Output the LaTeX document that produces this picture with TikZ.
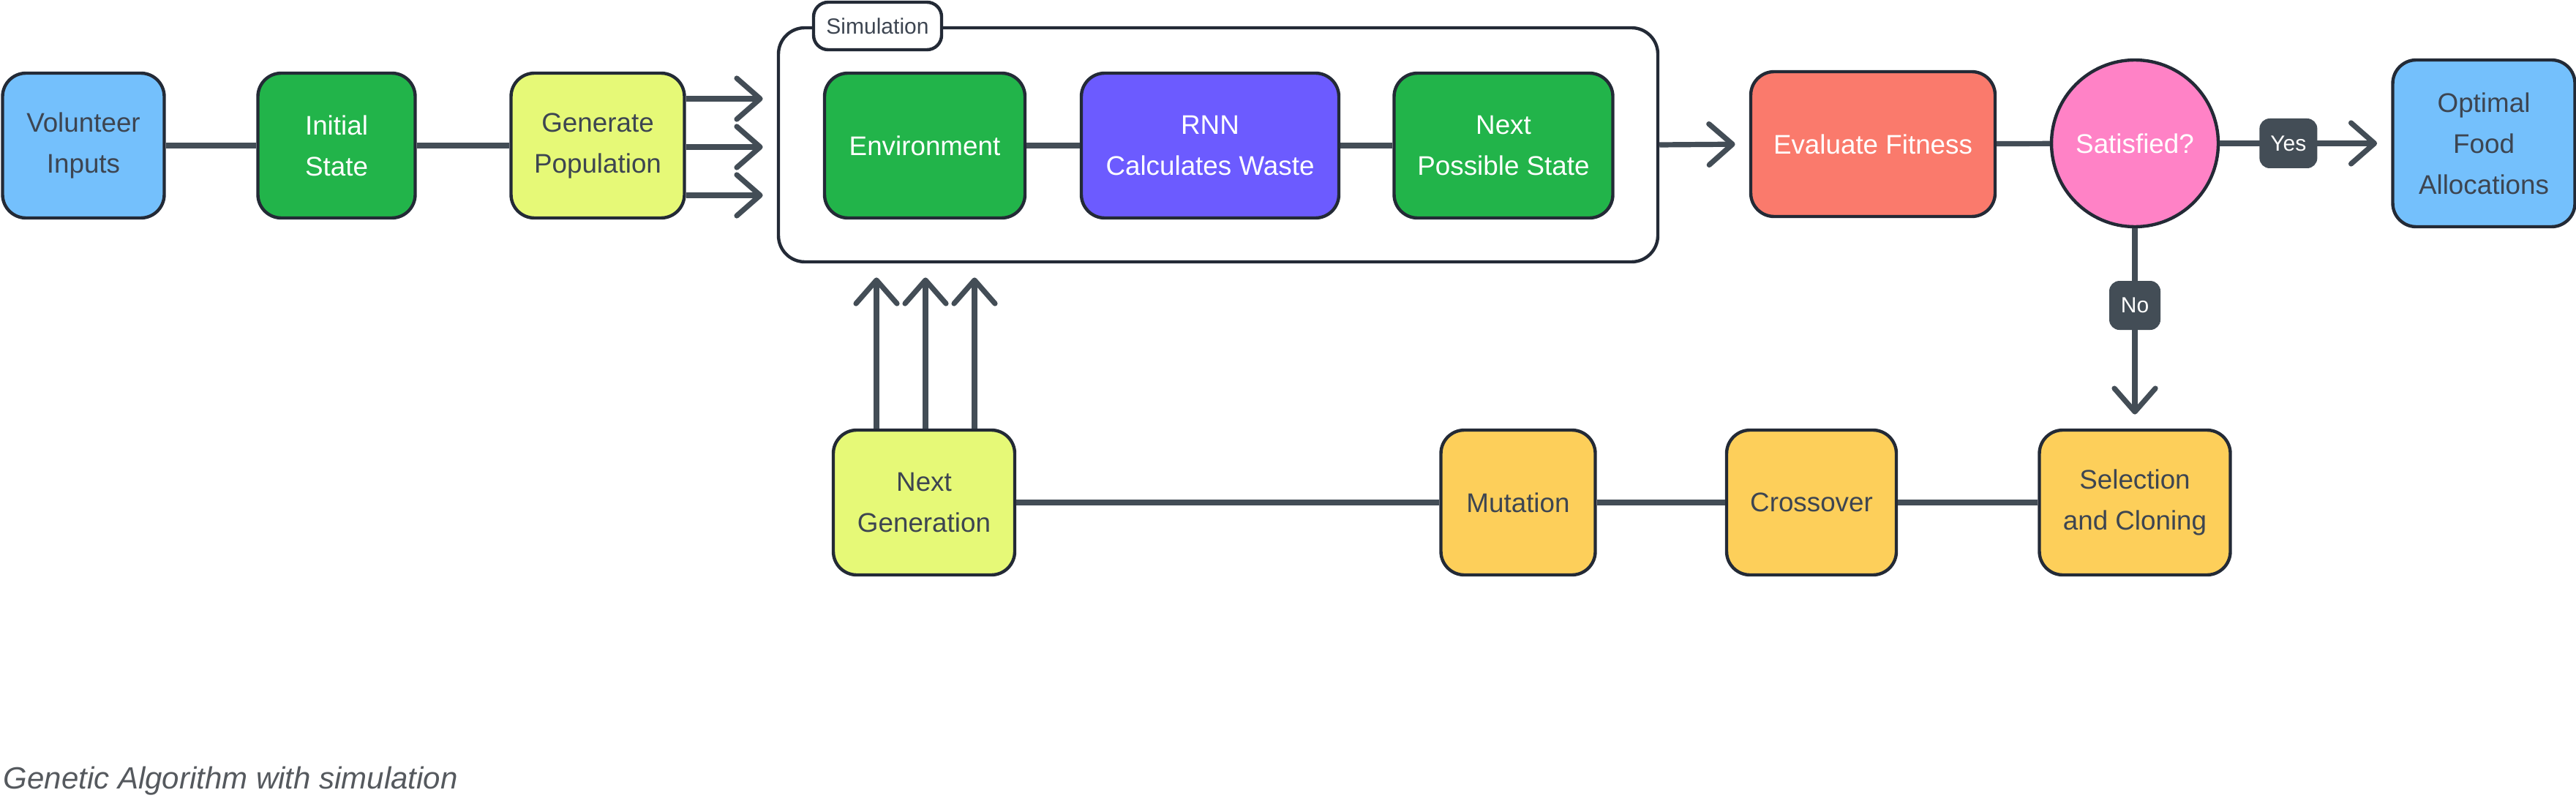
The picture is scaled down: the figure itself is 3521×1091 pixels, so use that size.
\documentclass[tikz,border=0pt]{standalone}
\usepackage{fontspec}
\setmainfont{Liberation Sans}
\usetikzlibrary{arrows.meta}
\definecolor{gaBlue}{HTML}{74C0FC}
\definecolor{gaGreen}{HTML}{22B44A}
\definecolor{gaLime}{HTML}{E6F977}
\definecolor{gaViolet}{HTML}{6C5BFF}
\definecolor{gaSalmon}{HTML}{FA7A6C}
\definecolor{gaPink}{HTML}{FF82C6}
\definecolor{gaAmber}{HTML}{FDCF5A}
\definecolor{gaBorder}{HTML}{232A36}
\definecolor{gaLine}{HTML}{434D56}
\definecolor{gaText}{HTML}{3D4551}
\definecolor{gaCaption}{HTML}{55595E}
\begin{document}
\begin{tikzpicture}[x=0.25pt, y=-0.25pt,
  gaBox/.style={draw=gaBorder, line width=1.1pt, rounded corners=8pt, minimum height=49.5pt,
    inner sep=0pt, align=center, text=gaText, font=\fontsize{9.2}{14}\selectfont},
  gaWhite/.style={text=white},
  gaTag/.style={fill=gaLine, text=white, rounded corners=3.5pt, inner sep=0pt,
    font=\fontsize{7.5}{9}\selectfont},
  gaLink/.style={draw=gaLine, line width=1.8pt},
  gaArrow/.style={gaLink, shorten >=4.8pt,
    -{Straight Barb[length=8pt,width=14pt,line cap=round,line join=round]}}]
% Page frame
\useasboundingbox (0,0) rectangle (3521,1091);
% Simulation frame and its tag
\node[draw=gaBorder, line width=1.1pt, rounded corners=9pt, inner sep=0pt,
  minimum width=300.5pt, minimum height=80pt] (sim) at (1665,198) {};
\node[gaBox, fill=white, rounded corners=5pt, minimum width=43.75pt, minimum height=16.25pt,
  font=\fontsize{7.5}{9}\selectfont] (simtag) at (1199.5,35.5) {Simulation};
% Top row
\node[gaBox, fill=gaBlue, minimum width=55.25pt] (vol) at (114,199) {Volunteer\\Inputs};
\node[gaBox, gaWhite, fill=gaGreen, minimum width=53.75pt] (init) at (460,199) {Initial\\State};
\node[gaBox, fill=gaLime, minimum width=59.25pt] (gen) at (817,199) {Generate\\Population};
\node[gaBox, gaWhite, fill=gaGreen, minimum width=68.5pt] (env) at (1264,199) {Environment};
\node[gaBox, gaWhite, fill=gaViolet, minimum width=88pt] (rnn) at (1654,199) {RNN\\Calculates Waste};
\node[gaBox, gaWhite, fill=gaGreen, minimum width=74.75pt] (nps) at (2055,199) {Next\\Possible State};
\node[gaBox, gaWhite, fill=gaSalmon, minimum width=83.5pt] (eval) at (2560,197) {Evaluate Fitness};
\node[gaBox, gaWhite, fill=gaPink, circle, minimum size=57pt] (sat) at (2918,196) {Satisfied?};
\node[gaBox, fill=gaBlue, minimum width=62.25pt, minimum height=57pt] (opt) at (3395,196) {Optimal\\Food\\Allocations};
% Bottom row
\node[gaBox, fill=gaLime, minimum width=62pt] (ngen) at (1263,687) {Next\\Generation};
\node[gaBox, fill=gaAmber, minimum width=52.75pt] (mut) at (2075,687) {Mutation};
\node[gaBox, fill=gaAmber, minimum width=58pt] (cross) at (2476,687) {Crossover};
\node[gaBox, fill=gaAmber, minimum width=65.25pt] (sel) at (2918,687) {Selection\\and Cloning};
% Caption
\node[anchor=base west, inner sep=0pt, text=gaCaption, font=\itshape\fontsize{10.5}{12}\selectfont]
  (caption) at (4,1078) {Genetic Algorithm with simulation};
% Plain links
\draw[gaLink] (vol) -- (init);
\draw[gaLink] (init) -- (gen);
\draw[gaLink] (env) -- (rnn);
\draw[gaLink] (rnn) -- (nps);
\draw[gaLink] (eval) -- (sat);
\draw[gaLink] (sel) -- (cross);
\draw[gaLink] (cross) -- (mut);
\draw[gaLink] (mut) -- (ngen);
% Population into the simulation
\foreach \dy/\nm in {-64/a,2/b,68/c} {
  \path (gen.east) ++(0,\dy) coordinate (gen\nm);
  \draw[gaArrow] (gen\nm) -- (gen\nm -| sim.west);
}
% Next generation back into the simulation
\foreach \dx/\nm in {-65/a,2/b,69/c} {
  \path (ngen.north) ++(\dx,0) coordinate (ngen\nm);
  \draw[gaArrow] (ngen\nm) -- (ngen\nm |- sim.south);
}
% Decision
\draw[gaArrow] (sim.east) -- (eval.west);
\draw[gaArrow] (sat) -- (opt) node[gaTag, pos=0.4, minimum width=19.75pt, minimum height=17pt] (yes) {Yes};
\draw[gaArrow] (sat) -- (sel) node[gaTag, pos=0.385, minimum width=17.5pt, minimum height=16.75pt] (no) {No};
\end{tikzpicture}
\end{document}
